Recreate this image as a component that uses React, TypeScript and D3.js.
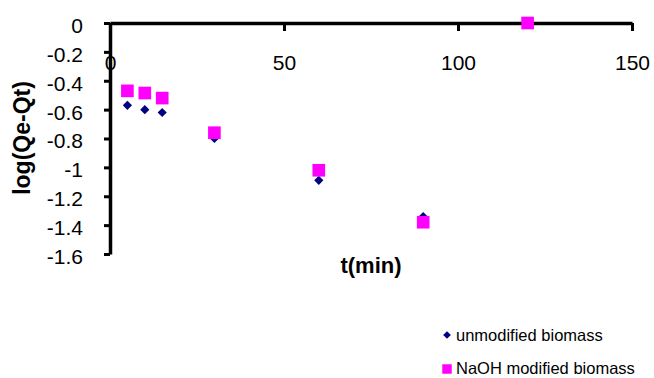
import * as d3 from 'd3';
import { useRef, useEffect } from 'react';

// time (min) and log(Qe-Qt) for each series
const times = [5, 10, 15, 30, 60, 90, 120];
const unmodified = [-0.57, -0.6, -0.62, -0.8, -1.09, -1.34, 0];
const naohModified = [-0.47, -0.485, -0.52, -0.76, -1.02, -1.38, 0];
const xTicks = [0, 50, 100, 150];
const yTicks = [0, -0.2, -0.4, -0.6, -0.8, -1, -1.2, -1.4, -1.6];
const seriesNames = ['unmodified biomass', 'NaOH modified biomass'];

const width = 654;
const height = 378;

const App: React.FC = () => {
  const ref = useRef<SVGSVGElement>(null);

  useEffect(() => {
    if (!ref.current) return;
    const svg = d3.select(ref.current);
    svg.selectAll('*').remove();

    const x = d3.scaleLinear().domain([0, 150]).range([110, 632]);
    const y = d3.scaleLinear().domain([-1.6, 0]).range([254, 23]);
    const font = '"Liberation Sans", Arial, sans-serif';

    // x axis sits on y = 0, ticks point down
    const xAxis = svg.append('g')
      .attr('transform', `translate(0,${y(0)})`)
      .call(d3.axisBottom(x).tickValues(xTicks).tickSize(8).tickPadding(24).tickSizeOuter(0));
    xAxis.select('.domain').attr('stroke-width', 3.5);
    xAxis.selectAll('line').attr('stroke-width', 3);
    xAxis.selectAll('text').attr('font-size', 21).attr('font-family', font).attr('fill', '#000');

    const yAxis = svg.append('g')
      .attr('transform', `translate(${x(0)},0)`)
      .call(d3.axisLeft(y).tickValues(yTicks).tickSize(6).tickPadding(21).tickSizeOuter(0)
        .tickFormat(d => String(+(+d).toFixed(1))));
    yAxis.select('.domain').attr('stroke-width', 3.5);
    yAxis.selectAll('line').attr('stroke-width', 3);
    yAxis.selectAll('text').attr('font-size', 21).attr('font-family', font).attr('fill', '#000')
      .attr('dy', '0.45em');

    // axis titles
    svg.append('text')
      .attr('transform', `translate(30,138) rotate(-90)`)
      .attr('text-anchor', 'middle')
      .attr('font-size', 23).attr('font-weight', 'bold').attr('font-family', font)
      .text('log(Qe-Qt)');
    svg.append('text')
      .attr('x', 371).attr('y', 273)
      .attr('text-anchor', 'middle')
      .attr('font-size', 22).attr('font-weight', 'bold').attr('font-family', font)
      .text('t(min)');

    const diamond = d3.symbol().type(d3.symbolSquare).size(42);
    const square = d3.symbol().type(d3.symbolSquare).size(160);

    svg.append('g').selectAll('path')
      .data(times.map((t, i) => [t, unmodified[i]]))
      .join('path')
      .attr('d', diamond()!)
      .attr('fill', '#000080')
      .attr('transform', d => `translate(${x(d[0])},${y(d[1])}) rotate(45)`);

    svg.append('g').selectAll('path')
      .data(times.map((t, i) => [t, naohModified[i]]))
      .join('path')
      .attr('d', square()!)
      .attr('fill', '#ff00ff')
      .attr('transform', d => `translate(${x(d[0])},${y(d[1])})`);

    // legend
    const legend = svg.append('g').attr('font-family', font).attr('font-size', 16.5);
    legend.append('path').attr('d', d3.symbol().type(d3.symbolSquare).size(30)()!)
      .attr('fill', '#000080').attr('transform', 'translate(447,335) rotate(45)');
    legend.append('text').attr('x', 456).attr('y', 341).text(seriesNames[0]);
    legend.append('path').attr('d', d3.symbol().type(d3.symbolSquare).size(90)()!)
      .attr('fill', '#ff00ff').attr('transform', 'translate(447,369)');
    legend.append('text').attr('x', 456).attr('y', 374).text(seriesNames[1]);
  }, []);

  return (
    <svg ref={ref} width={width} height={height}
      style={{ position: 'absolute', left: 0, top: 0, background: '#fff' }} />
  );
};

export default App;
